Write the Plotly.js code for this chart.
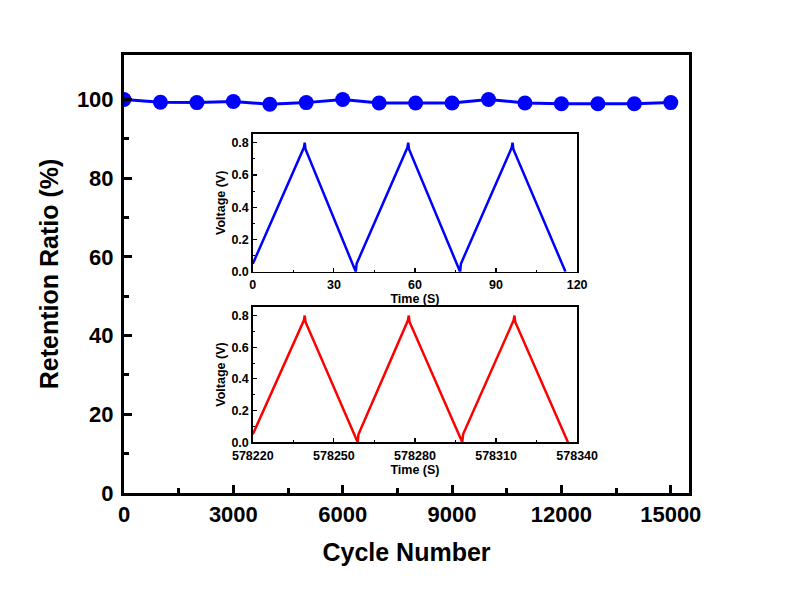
<!DOCTYPE html>
<html><head><meta charset="utf-8">
<script src="https://cdn.plot.ly/plotly-3.0.1.min.js"></script>
<style>body{margin:0;background:#fff}#c{width:798px;height:610px}</style>
</head><body><div id="c"></div>
<script>
// Main series
const cycles = [0,1000,2000,3000,4000,5000,6000,7000,8000,9000,10000,11000,12000,13000,14000,15000];
const retention = [100,99.3,99.2,99.5,98.8,99.2,100,99.1,99.1,99.1,100,99.1,98.9,98.9,98.9,99.2];
// Inset 1 (initial cycles)
const t1 = [0,18.9,19.2,19.5,38.1,38.4,57.2,57.5,57.8,76.7,77.0,95.8,96.1,96.4,115.7];
const v1 = [0.05,0.77,0.80,0.76,0.0,0.05,0.77,0.80,0.76,0.0,0.05,0.77,0.80,0.76,0.0];
// Inset 2 (after 15000 cycles)
const t2 = [578220,578238.9,578239.2,578239.5,578258.8,578259.1,578277.4,578277.7,578278.0,578297.5,578297.8,578316.5,578316.8,578317.1,578336.6];
const v2 = [0.05,0.77,0.80,0.76,0.0,0.05,0.77,0.80,0.76,0.0,0.05,0.77,0.80,0.76,0.0];

const FF = 'Arial, "Liberation Sans", sans-serif';
const bold = (s,c) => ({family:FF,size:s,color:c||'#000',weight:'bold'});

const traces = [
  {x:cycles,y:retention,type:'scatter',mode:'lines+markers',
   line:{color:'#0000ff',width:3},marker:{color:'#0000ff',size:15},xaxis:'x',yaxis:'y'},
  {x:t1,y:v1,type:'scatter',mode:'lines',line:{color:'#0000ff',width:2.5},xaxis:'x2',yaxis:'y2'},
  {x:t2,y:v2,type:'scatter',mode:'lines',line:{color:'#ff0000',width:2.5},xaxis:'x3',yaxis:'y3'}
];

const insetX = (dom, anchor, range, dtick, title) => ({
  domain:dom, anchor:anchor, range:range, dtick:dtick, tick0:range[0], tickformat:'d',
  ticks:'inside', ticklen:4, tickwidth:1.2, tickcolor:'#000',
  minor:{ticks:'inside',ticklen:2,dtick:dtick/2,tickcolor:'#000',tickwidth:1},
  showline:true, linecolor:'#000', linewidth:1.5, mirror:true, showgrid:false, zeroline:false,
  tickfont:bold(12.5), ticklabelstandoff:1, title:{text:title,font:bold(12.5),standoff:0}
});
const insetY = (dom, anchor) => ({
  domain:dom, anchor:anchor, range:[0,0.855], dtick:0.2, tickformat:'.1f',
  ticks:'inside', ticklen:4, tickwidth:1.2, tickcolor:'#000',
  minor:{ticks:'inside',ticklen:2,dtick:0.1,tickcolor:'#000',tickwidth:1},
  showline:true, linecolor:'#000', linewidth:1.5, mirror:true, showgrid:false, zeroline:false,
  tickfont:bold(12.5), title:{text:'Voltage (V)',font:bold(12.5),standoff:3}
});

const layout = {
  width:798, height:610, showlegend:false,
  paper_bgcolor:'#fff', plot_bgcolor:'#fff',
  margin:{l:124,r:109,t:55,b:117},
  xaxis:{range:[0,15500], tickvals:[0,3000,6000,9000,12000,15000], ticktext:['0','3000','6000','9000','12000','15000'],
    ticks:'inside', ticklen:8, tickwidth:3, tickcolor:'#000',
    minor:{ticks:'inside',ticklen:5,tickwidth:3,tickcolor:'#000',tickvals:[1500,4500,7500,10500,13500]},
    showline:true, linecolor:'#000', linewidth:3, mirror:true, showgrid:false, zeroline:false,
    tickfont:bold(22), title:{text:'Cycle Number',font:bold(25),standoff:18}},
  yaxis:{range:[0,111.3], tickvals:[0,20,40,60,80,100],
    ticks:'inside', ticklen:8, tickwidth:3, tickcolor:'#000',
    minor:{ticks:'inside',ticklen:5,tickwidth:3,tickcolor:'#000',tickvals:[10,30,50,70,90]},
    showline:true, linecolor:'#000', linewidth:3, mirror:true, showgrid:false, zeroline:false,
    tickfont:bold(22), ticklabelstandoff:3, title:{text:'Retention Ratio (%)',font:bold(25),standoff:12}},
  xaxis2:insetX([0.228,0.802],'y2',[0,120],30,'Time (S)'),
  yaxis2:insetY([0.505,0.820],'x2'),
  xaxis3:insetX([0.228,0.802],'y3',[578220,578340],30,'Time (S)'),
  yaxis3:insetY([0.116,0.425],'x3')
};
Plotly.newPlot('c', traces, layout, {displayModeBar:false, staticPlot:true});
</script></body></html>
